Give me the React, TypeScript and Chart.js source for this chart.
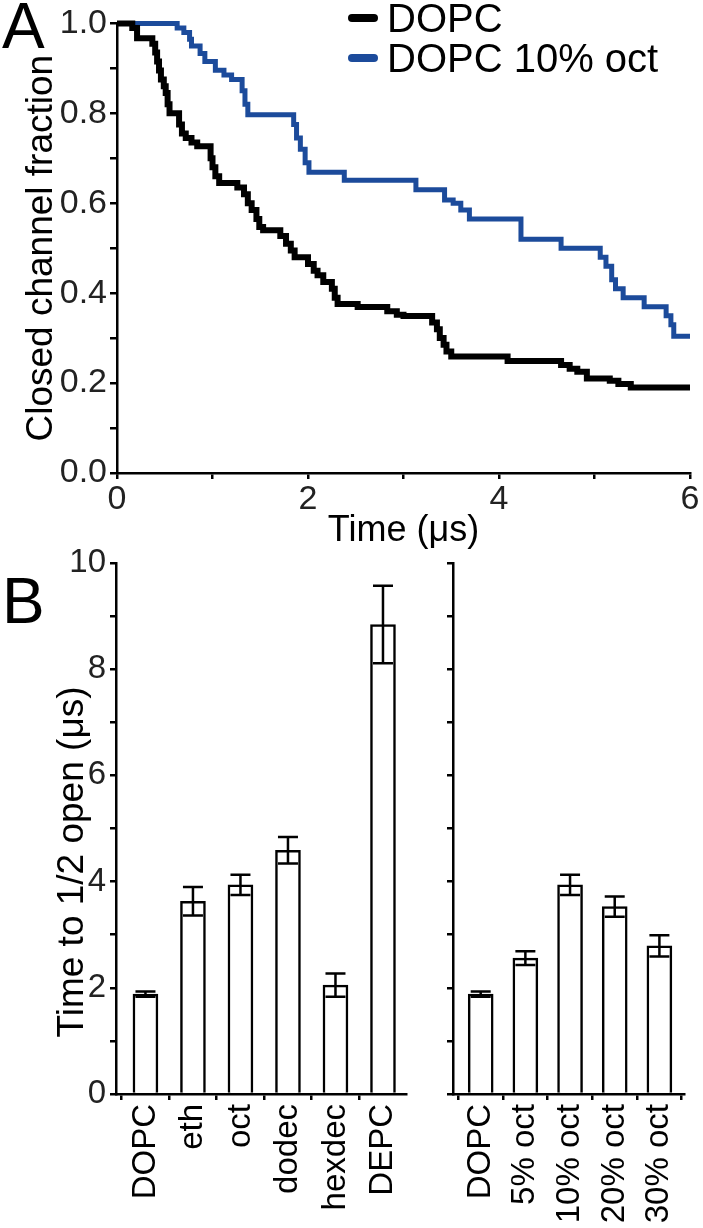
import React, { useEffect, useRef } from 'react';
import { Chart, registerables } from 'chart.js';

Chart.register(...registerables);

const FONT = '"Liberation Sans", Arial, Helvetica, sans-serif';

// ---------- Panel A data (Kaplan–Meier style step curves) ----------
const dopcTime = [0, 0.16, 0.21, 0.37, 0.40, 0.42, 0.44, 0.46, 0.49, 0.51, 0.53, 0.55, 0.65, 0.68, 0.72, 0.78, 0.84, 0.98, 1.00, 1.03, 1.07, 1.26, 1.33, 1.37, 1.41, 1.46, 1.49, 1.53, 1.71, 1.77, 1.82, 1.86, 2.00, 2.06, 2.10, 2.16, 2.25, 2.28, 2.31, 2.52, 2.83, 2.93, 3.00, 3.30, 3.35, 3.38, 3.42, 3.45, 3.50, 4.09, 4.65, 4.74, 4.82, 4.92, 5.16, 5.25, 5.38, 6.00];
const dopcFrac = [1.0, 0.99, 0.967, 0.955, 0.935, 0.915, 0.895, 0.875, 0.86, 0.845, 0.82, 0.80, 0.775, 0.755, 0.745, 0.735, 0.727, 0.70, 0.68, 0.66, 0.645, 0.635, 0.62, 0.60, 0.585, 0.565, 0.547, 0.54, 0.527, 0.51, 0.495, 0.48, 0.465, 0.45, 0.44, 0.425, 0.41, 0.39, 0.376, 0.369, 0.36, 0.352, 0.349, 0.335, 0.32, 0.30, 0.285, 0.27, 0.259, 0.249, 0.24, 0.232, 0.225, 0.21, 0.205, 0.198, 0.19, 0.19];

const octTime = [0, 0.63, 0.70, 0.76, 0.78, 0.87, 0.92, 1.03, 1.12, 1.20, 1.31, 1.34, 1.37, 1.85, 1.88, 1.92, 1.97, 2.01, 2.38, 3.13, 3.43, 3.52, 3.60, 3.69, 4.23, 4.65, 5.06, 5.12, 5.18, 5.22, 5.30, 5.52, 5.75, 5.80, 5.83, 6.00];
const octFrac = [1.0, 0.99, 0.98, 0.965, 0.95, 0.933, 0.915, 0.896, 0.885, 0.875, 0.85, 0.82, 0.797, 0.775, 0.745, 0.72, 0.69, 0.669, 0.651, 0.63, 0.607, 0.60, 0.585, 0.565, 0.52, 0.50, 0.48, 0.46, 0.43, 0.41, 0.39, 0.37, 0.35, 0.33, 0.304, 0.304];

const seriesNames = ['DOPC', 'DOPC 10% oct'];
const seriesColors = ['#000000', '#1c4b9b'];

const fracTicks = [0, 0.1, 0.2, 0.3, 0.4, 0.5, 0.6, 0.7, 0.8, 0.9, 1.0];
const timeTicks = [0, 1, 2, 3, 4, 5, 6];

// ---------- Panel B data ----------
const solventLabels = ['DOPC', 'eth', 'oct', 'dodec', 'hexdec', 'DEPC'];
const solventMeans = [1.88, 3.63, 3.94, 4.59, 2.05, 8.84];
const solventErrs = [0.05, 0.27, 0.19, 0.25, 0.22, 0.73];

const octLabels = ['DOPC', '5% oct', '10% oct', '20% oct', '30% oct'];
const octMeans = [1.88, 2.56, 3.94, 3.53, 2.79];
const octErrs = [0.05, 0.13, 0.19, 0.19, 0.20];

const openTicks = [0, 1, 2, 3, 4, 5, 6, 7, 8, 9, 10];

// ---------- plugins ----------
const letterPlugin = (letter: string, x: number, y: number) => ({
  id: 'letter' + letter,
  afterDraw(chart: any) {
    const ctx = chart.ctx;
    ctx.save();
    ctx.fillStyle = '#000';
    ctx.font = `64px ${FONT}`;
    ctx.textAlign = 'left';
    ctx.textBaseline = 'alphabetic';
    ctx.fillText(letter, x, y);
    ctx.restore();
  },
});

const legendPlugin = {
  id: 'insideLegend',
  afterDraw(chart: any) {
    const ctx = chart.ctx;
    ctx.save();
    const baselines = [32, 72];
    seriesNames.forEach((name, i) => {
      const b = baselines[i];
      ctx.strokeStyle = seriesColors[i];
      ctx.lineWidth = 8;
      ctx.lineCap = 'round';
      ctx.beginPath();
      ctx.moveTo(352, b - 14);
      ctx.lineTo(374, b - 14);
      ctx.stroke();
      ctx.fillStyle = '#000';
      ctx.font = `40px ${FONT}`;
      ctx.textAlign = 'left';
      ctx.textBaseline = 'alphabetic';
      ctx.fillText(name, 387, b);
    });
    ctx.restore();
  },
};

const rotatedTitlePlugin = (text: string, x: number, y: number, size: number) => ({
  id: 'rotTitle',
  afterDraw(chart: any) {
    const ctx = chart.ctx;
    ctx.save();
    ctx.translate(x, y);
    ctx.rotate(-Math.PI / 2);
    ctx.fillStyle = '#000';
    ctx.font = `${size}px ${FONT}`;
    ctx.textAlign = 'center';
    ctx.textBaseline = 'middle';
    ctx.fillText(text, 0, 0);
    ctx.restore();
  },
});

const errorBarPlugin = (errs: number[], means: number[]) => ({
  id: 'errorBars',
  afterDatasetsDraw(chart: any) {
    const ctx = chart.ctx;
    const xs = chart.scales.x;
    const ys = chart.scales.y;
    ctx.save();
    ctx.strokeStyle = '#000';
    ctx.lineWidth = 2.5;
    means.forEach((m, i) => {
      const x = xs.getPixelForValue(i);
      const yHi = ys.getPixelForValue(m + errs[i]);
      const yLo = ys.getPixelForValue(m - errs[i]);
      ctx.beginPath();
      ctx.moveTo(x, yHi);
      ctx.lineTo(x, yLo);
      ctx.moveTo(x - 10, yHi);
      ctx.lineTo(x + 10, yHi);
      ctx.moveTo(x - 10, yLo);
      ctx.lineTo(x + 10, yLo);
      ctx.stroke();
    });
    ctx.restore();
  },
});

const axisStyle = {
  grid: { display: true, drawOnChartArea: false, drawTicks: true, tickLength: 6, color: '#000', lineWidth: 2.5 },
  border: { display: true, color: '#000', width: 2.5 },
};

function makeBarChart(canvas: HTMLCanvasElement, labels: string[], means: number[], errs: number[], opts: any) {
  return new Chart(canvas, {
    type: 'bar',
    data: {
      datasets: [
        {
          data: means.map((v, i) => ({ x: i, y: v })),
          backgroundColor: '#ffffff',
          borderColor: '#000000',
          borderWidth: 2.5,
          barThickness: 25,
          borderSkipped: 'bottom',
        },
      ],
    },
    options: {
      responsive: false,
      animation: false,
      layout: { padding: opts.padding },
      plugins: { legend: { display: false }, tooltip: { enabled: false } },
      scales: {
        x: {
          type: 'linear',
          offset: false,
          min: -0.62,
          max: opts.xMax,
          afterBuildTicks: (s: any) => {
            s.ticks = labels.map((_, i) => ({ value: i }));
          },
          afterFit: (s: any) => {
            s.height = opts.xHeight;
          },
          ticks: {
            autoSkip: false,
            minRotation: 90,
            maxRotation: 90,
            padding: 4,
            color: '#000',
            font: { family: FONT, size: 33 },
            callback: (v: any) => labels[Math.round(Number(v))] ?? '',
          },
          ...axisStyle,
        },
        y: {
          type: 'linear',
          min: 0,
          max: 10,
          afterBuildTicks: (s: any) => {
            s.ticks = openTicks.map((v) => ({ value: v }));
          },
          afterFit: (s: any) => {
            s.width = opts.yWidth;
          },
          ticks: {
            padding: 4,
            color: '#222',
            font: { family: FONT, size: 33 },
            callback: (v: any) => (opts.showYLabels && Number(v) % 2 === 0 ? String(v) : ''),
          },
          ...axisStyle,
        },
      },
    },
    plugins: opts.plugins,
  });
}

export default function App() {
  const aRef = useRef<HTMLCanvasElement>(null);
  const bLeftRef = useRef<HTMLCanvasElement>(null);
  const bRightRef = useRef<HTMLCanvasElement>(null);

  useEffect(() => {
    const charts: Chart[] = [];

    charts.push(
      new Chart(aRef.current!, {
        type: 'line',
        data: {
          datasets: [
            {
              label: seriesNames[0],
              data: dopcTime.map((t, i) => ({ x: t, y: dopcFrac[i] })),
              borderColor: seriesColors[0],
              borderWidth: 6,
              stepped: 'before',
              pointRadius: 0,
              clip: false as any,
              borderJoinStyle: 'miter',
            },
            {
              label: seriesNames[1],
              data: octTime.map((t, i) => ({ x: t, y: octFrac[i] })),
              borderColor: seriesColors[1],
              borderWidth: 5,
              stepped: 'before',
              pointRadius: 0,
              clip: false as any,
              borderJoinStyle: 'miter',
            },
          ],
        },
        options: {
          responsive: false,
          animation: false,
          layout: { padding: { top: 23, right: 13, left: 0, bottom: 0 } },
          plugins: { legend: { display: false }, tooltip: { enabled: false } },
          scales: {
            x: {
              type: 'linear',
              min: 0,
              max: 6,
              afterBuildTicks: (s: any) => {
                s.ticks = timeTicks.map((v) => ({ value: v }));
              },
              afterFit: (s: any) => {
                s.height = 127;
              },
              ticks: {
                autoSkip: false,
                maxRotation: 0,
                padding: 0,
                color: '#222',
                font: { family: FONT, size: 34 },
                callback: (v: any) => (Number(v) % 2 === 0 ? String(v) : ''),
              },
              title: {
                display: true,
                text: 'Time (μs)',
                color: '#000',
                font: { family: FONT, size: 36 },
                padding: { top: 0, bottom: 47 },
              },
              ...axisStyle,
            },
            y: {
              type: 'linear',
              min: 0,
              max: 1,
              afterBuildTicks: (s: any) => {
                s.ticks = fracTicks.map((v) => ({ value: v }));
              },
              afterFit: (s: any) => {
                s.width = 117;
              },
              ticks: {
                padding: 3,
                color: '#222',
                font: { family: FONT, size: 34 },
                callback: (v: any) => (Math.round(Number(v) * 10) % 2 === 0 ? Number(v).toFixed(1) : ''),
              },
              title: {
                display: true,
                text: 'Closed channel fraction',
                color: '#000',
                font: { family: FONT, size: 37 },
                padding: { top: 20, bottom: 0 },
              },
              ...axisStyle,
              grid: { ...axisStyle.grid, tickLength: 7 },
            },
          },
        },
        plugins: [legendPlugin, letterPlugin('A', 2, 48)],
      })
    );

    charts.push(
      makeBarChart(bLeftRef.current!, solventLabels, solventMeans, solventErrs, {
        padding: { top: 43, right: 18, left: 0, bottom: 0 },
        xMax: 5.48,
        xHeight: 134,
        yWidth: 116,
        showYLabels: true,
        plugins: [
          errorBarPlugin(solventErrs, solventMeans),
          letterPlugin('B', 2, 103),
          rotatedTitlePlugin('Time to 1/2 open (μs)', 73, 862 - 520, 37),
        ],
      })
    );

    charts.push(
      makeBarChart(bRightRef.current!, octLabels, octMeans, octErrs, {
        padding: { top: 43, right: 0, left: 0, bottom: 0 },
        xMax: 4.556,
        xHeight: 134,
        yWidth: 23,
        showYLabels: false,
        plugins: [errorBarPlugin(octErrs, octMeans)],
      })
    );

    return () => charts.forEach((c) => c.destroy());
  }, []);

  return (
    <div style={{ position: 'absolute', left: 0, top: 0, width: 703, height: 1228, background: '#fff', overflow: 'hidden' }}>
      <canvas ref={aRef} width={703} height={600} style={{ position: 'absolute', left: 0, top: 0, width: 703, height: 600 }} />
      <canvas ref={bLeftRef} width={428} height={708} style={{ position: 'absolute', left: 0, top: 520, width: 428, height: 708 }} />
      <canvas ref={bRightRef} width={273} height={708} style={{ position: 'absolute', left: 430, top: 520, width: 273, height: 708 }} />
    </div>
  );
}
